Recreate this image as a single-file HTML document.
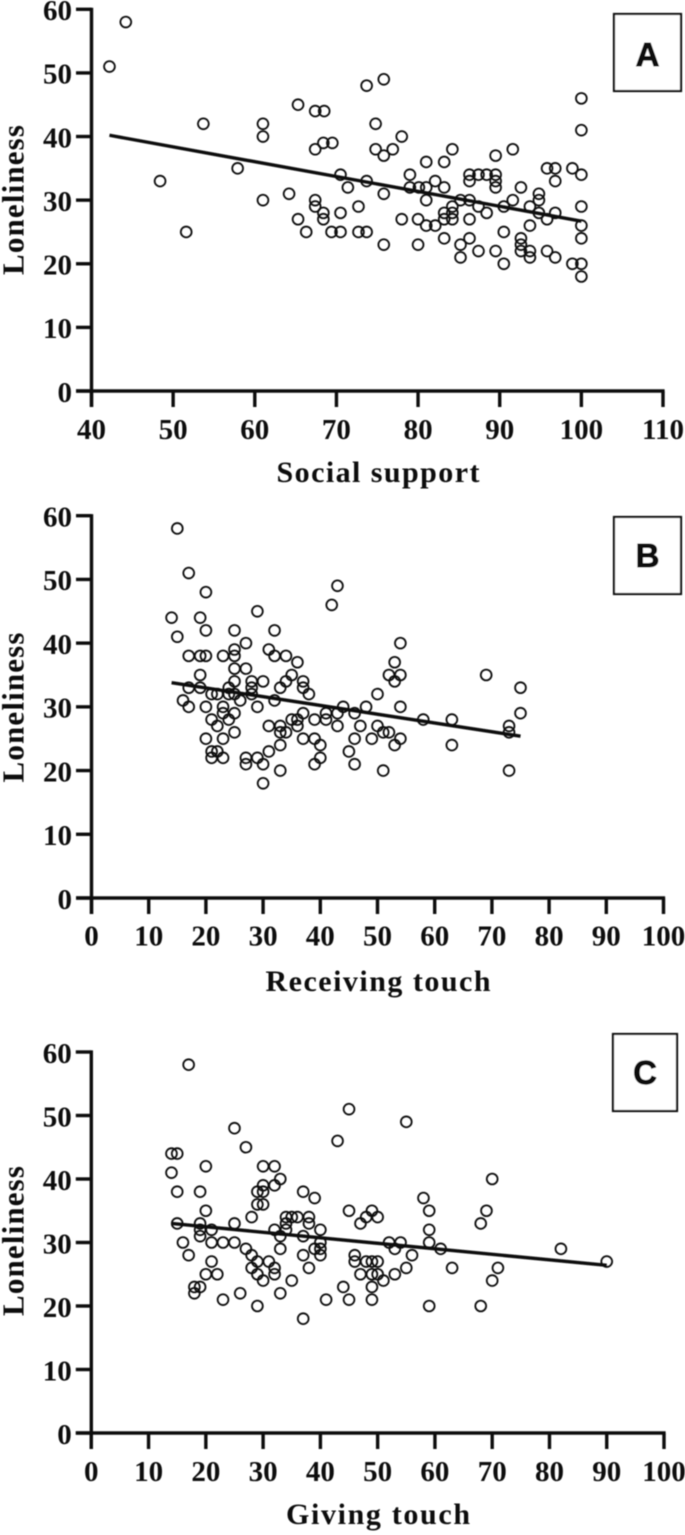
<!DOCTYPE html>
<html>
<head>
<meta charset="utf-8">
<style>
html,body{margin:0;padding:0;background:#fff;}
svg{display:block;}
text{font-family:"Liberation Serif",serif;font-weight:bold;fill:#111;}
text.boxletter{font-family:"Liberation Sans",sans-serif;font-size:33px;font-weight:700;stroke:#111;stroke-width:0.9px;}
</style>
</head>
<body>
<svg id="figure" xmlns="http://www.w3.org/2000/svg" width="685" height="1535" viewBox="0 0 685 1535">
<defs><filter id="soft" x="-2%" y="-2%" width="104%" height="104%"><feGaussianBlur stdDeviation="0.4"/></filter></defs>
<g id="root" filter="url(#soft)">
<g id="panel-a">
<text transform="translate(23.5,200) rotate(-90)" text-anchor="middle" font-size="31" textLength="150" lengthAdjust="spacing">Loneliness</text>
<text x="378" y="482" text-anchor="middle" font-size="30" textLength="203" lengthAdjust="spacing">Social support</text>
<rect x="614" y="14" width="67" height="77" fill="#fff" stroke="#111" stroke-width="2.2"/>
<text class="boxletter" x="647.5" y="66" text-anchor="middle">A</text>
</g>
<g id="panel-b">
<text transform="translate(23.5,707.5) rotate(-90)" text-anchor="middle" font-size="31" textLength="150" lengthAdjust="spacing">Loneliness</text>
<text x="378" y="991" text-anchor="middle" font-size="30" textLength="225" lengthAdjust="spacing">Receiving touch</text>
<rect x="614" y="517" width="67" height="77" fill="#fff" stroke="#111" stroke-width="2.2"/>
<text class="boxletter" x="647.5" y="567" text-anchor="middle">B</text>
</g>
<g id="panel-c">
<text transform="translate(23.5,1241) rotate(-90)" text-anchor="middle" font-size="31" textLength="150" lengthAdjust="spacing">Loneliness</text>
<text x="378" y="1524" text-anchor="middle" font-size="30" textLength="184" lengthAdjust="spacing">Giving touch</text>
<rect x="613" y="1034" width="64" height="77" fill="#fff" stroke="#111" stroke-width="2.2"/>
<text class="boxletter" x="645" y="1084" text-anchor="middle">C</text>
</g>
</g>
</svg>
<script>
const yTickValues = [0,10,20,30,40,50,60];
const aXTicks = [40,50,60,70,80,90,100,110];
const bXTicks = [0,10,20,30,40,50,60,70,80,90,100];
const cXTicks = [0,10,20,30,40,50,60,70,80,90,100];

const aFitX = [42.2,100];
const aFitY = [40.2,26.7];
const bFitX = [14,75];
const bFitY = [33.8,25.4];
const cFitX = [14,90];
const cFitY = [33,26.4];

const aX = [
44.2,42.2,75.8,73.7,100,65.3,67.4,68.5,53.7,61,74.8,100,61,78,68.4,69.5,
67.4,74.8,76.9,84.2,91.6,75.8,89.5,81,83.2,57.9,95.8,96.8,98.9,
70.5,79,86.3,87.4,88.4,89.5,100,48.4,73.7,82.1,86.3,89.5,96.8,
71.4,79,80.1,81,83.2,89.5,92.6,64.2,75.8,94.8,61,67.4,81,85.2,86.3,91.6,94.8,
67.4,72.7,84.2,87.4,90.5,93.7,100,68.4,70.5,83.2,84.2,88.4,94.8,96.8,
65.3,68.4,78,80,83.2,84.2,86.3,95.8,81,82.1,93.7,100,
51.6,66.3,69.4,70.5,72.7,73.7,90.5,83.2,86.3,92.6,100,75.8,80,85.2,92.6,
87.4,89.5,92.6,93.7,95.8,85.2,93.7,96.8,90.5,98.9,100,100];
const aY = [
58,51,49,48,46,45,44,44,42,42,42,41,40,40,39,39,
38,38,38,38,38,37,37,36,36,35,35,35,35,
34,34,34,34,34,34,34,33,33,33,33,33,33,
32,32,32,32,32,32,32,31,31,31,30,30,30,30,30,30,30,
29,29,29,29,29,29,29,28,28,28,28,28,28,28,
27,27,27,27,27,27,27,27,26,26,26,26,
25,25,25,25,25,25,25,24,24,24,24,23,23,23,23,
22,22,22,22,22,21,21,21,20,20,20,18];

const bX = [
15,17,43,20,42,29,14,19,20,25,32,15,27,54,25,31,
20,25,32,34,17,19,23,36,53,25,27,19,35,52,54,69,
25,28,30,34,37,53,17,19,24,28,33,37,75,
21,22,24,25,28,38,50,16,26,32,
17,20,23,29,44,48,54,23,25,37,41,43,46,75,
21,24,35,36,39,41,58,63,22,31,33,36,43,47,50,73,
25,33,34,51,52,73,20,23,37,39,46,49,54,
33,40,53,63,21,22,31,45,21,23,27,29,40,
27,30,39,46,33,51,73,30];
const bY = [
58,51,49,48,46,45,44,44,42,42,42,41,40,40,39,39,
38,38,38,38,38,38,38,37,37,36,36,35,35,35,35,35,
34,34,34,34,34,34,33,33,33,33,33,33,33,
32,32,32,32,32,32,32,31,31,31,
30,30,30,30,30,30,30,29,29,29,29,29,29,29,
28,28,28,28,28,28,28,28,27,27,27,27,27,27,27,27,
26,26,26,26,26,26,25,25,25,25,25,25,25,
24,24,24,24,23,23,23,23,22,22,22,22,22,
21,21,21,21,20,20,20,18];

const cX = [
17,45,55,25,43,27,14,15,14,20,30,32,33,30,32,
15,19,29,30,37,39,58,29,30,20,45,49,59,69,70,
28,34,35,36,38,48,50,15,19,25,34,38,47,68,
19,21,32,34,40,59,19,33,37,
16,21,23,25,40,52,54,59,27,33,39,40,53,61,82,
17,28,37,40,46,56,21,29,31,46,48,49,50,90,
28,32,38,55,63,71,20,22,29,32,47,49,50,53,
30,35,51,70,18,19,44,49,18,26,33,23,41,45,49,
29,59,68,37];
const cY = [
58,51,49,48,46,45,44,44,41,42,42,42,40,39,39,
38,38,38,38,38,37,37,36,36,35,35,35,35,35,40,
34,34,34,34,34,34,34,33,33,33,33,33,33,33,
32,32,32,32,32,32,31,31,31,
30,30,30,30,30,30,30,30,29,29,29,29,29,29,29,
28,28,28,28,28,28,27,27,27,27,27,27,27,27,
26,26,26,26,26,26,25,25,25,25,25,25,25,25,
24,24,24,24,23,23,23,23,22,22,22,21,21,21,21,
20,20,20,18];

const SVGNS = 'http://www.w3.org/2000/svg';
const INK = '#111';

function make(parent, tag, props, content) {
  const node = document.createElementNS(SVGNS, tag);
  for (const key in props) node.setAttribute(key, props[key]);
  if (content !== undefined) node.textContent = content;
  parent.appendChild(node);
  return node;
}

function drawPanel(id, xTicks, xs, ys, fitX, fitY, box) {
  const host = document.getElementById('panel-' + id);
  const xMin = xTicks[0];
  const xMax = xTicks[xTicks.length - 1];
  const yMin = yTickValues[0];
  const yMax = yTickValues[yTickValues.length - 1];
  const sx = v => box.left + (v - xMin) / (xMax - xMin) * (box.right - box.left);
  const sy = v => box.bottom - (v - yMin) / (yMax - yMin) * (box.bottom - box.top);

  const yAxis = make(host, 'line', {x1: box.left, x2: box.left, y1: box.top - 1.6, y2: box.bottom + 16, stroke: INK, 'stroke-width': 3.4});
  
  
  const xAxis = make(host, 'line', {x1: box.left - 15.5, x2: box.right + 1.6, y1: box.bottom, y2: box.bottom, stroke: INK, 'stroke-width': 3.4});
  
  

  yTickValues.forEach(v => {
    const tick = make(host, 'line', {x1: box.left - 15.5, x2: box.left, y1: sy(v), y2: sy(v), stroke: INK, 'stroke-width': 3.4});
    
    
    const label = make(host, 'text', {x: box.left - 19.5, y: sy(v) + 10.8, 'text-anchor': 'end', 'font-size': 29}, String(v));
    
    
  });

  xTicks.forEach(v => {
    const tick = make(host, 'line', {x1: sx(v), x2: sx(v), y1: box.bottom, y2: box.bottom + 16, stroke: INK, 'stroke-width': 3.4});
    
    
    const label = make(host, 'text', {x: sx(v), y: box.bottom + box.labelGap, 'text-anchor': 'middle', 'font-size': 29}, String(v));
    
    
  });

  xs.forEach((v, i) => {
    const point = make(host, 'circle', {cx: sx(v), cy: sy(ys[i]), r: 5.4, fill: 'none', stroke: INK, 'stroke-width': 1.8});
    
    
  });

  const fit = make(host, 'line', {x1: sx(fitX[0]), y1: sy(fitY[0]), x2: sx(fitX[1]), y2: sy(fitY[1]), stroke: INK, 'stroke-width': 3.4});
  
  
}

drawPanel('a', aXTicks, aX, aY, aFitX, aFitY, {left: 91.5, right: 663, top: 9.3, bottom: 391, labelGap: 48});
drawPanel('b', bXTicks, bX, bY, bFitX, bFitY, {left: 91.5, right: 663.5, top: 515.7, bottom: 898, labelGap: 47.5});
drawPanel('c', cXTicks, cX, cY, cFitX, cFitY, {left: 91.3, right: 664, top: 1052, bottom: 1433, labelGap: 48});
</script>
</body>
</html>
